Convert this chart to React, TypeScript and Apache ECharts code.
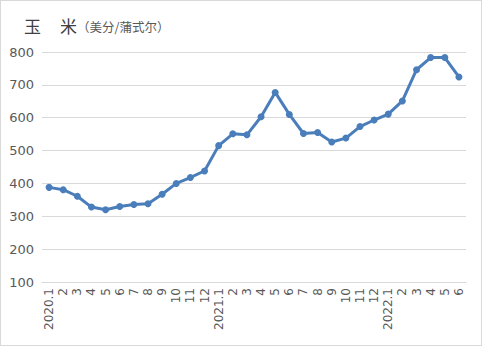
import React, { useEffect, useRef } from "react";
import * as echarts from "echarts";

const categories = [
  "2020.1", "2", "3", "4", "5", "6", "7", "8", "9", "10", "11", "12",
  "2021.1", "2", "3", "4", "5", "6", "7", "8", "9", "10", "11", "12",
  "2022.1", "2", "3", "4", "5", "6",
];
const values = [
  388, 381, 361, 328, 320, 330, 336, 338, 367, 400, 418, 438,
  515, 551, 548, 603, 677, 610, 552, 555, 526, 538, 573, 593,
  611, 651, 746, 783, 783, 724,
];
const titleChar1 = "玉";
const titleChar2 = "米";
const titleUnit = "（美分/蒲式尔）";

export default function App() {
  const ref = useRef<HTMLDivElement>(null);
  useEffect(() => {
    if (!ref.current) return;
    const chart = echarts.init(ref.current, null, { renderer: "svg" });
    chart.setOption({
      animation: false,
      backgroundColor: "#ffffff",
      title: {
        text: `{a|${titleChar1}}{s|}{a|${titleChar2}}{b|${titleUnit}}`,
        left: 18,
        top: 10,
        textStyle: {
          fontWeight: "normal",
          rich: {
            a: { fontSize: 17, color: "#404040", fontFamily: "Noto Sans CJK SC", fontWeight: "normal" },
            s: { width: 19 },
            b: { fontSize: 12.5, color: "#595959", fontFamily: "Noto Sans CJK SC", fontWeight: "normal", padding: [3, 0, 0, 0] },
          },
        },
      },
      grid: { left: 41, right: 15, top: 51, bottom: 63, containLabel: false },
      xAxis: {
        type: "category",
        data: categories,
        boundaryGap: true,
        axisTick: { show: false },
        axisLine: { show: true, lineStyle: { color: "#d9d9d9", width: 1 } },
        axisLabel: {
          interval: 0,
          rotate: 90,
          fontSize: 12,
          color: "#595959",
          fontFamily: "DejaVu Sans",
          margin: 6,
        },
      },
      yAxis: {
        type: "value",
        min: 100,
        max: 800,
        interval: 100,
        axisLine: { show: false },
        axisTick: { show: false },
        splitLine: { lineStyle: { color: "#d9d9d9", width: 1 } },
        axisLabel: { fontSize: 13, color: "#595959", fontFamily: "DejaVu Sans", margin: 8 },
      },
      series: [
        {
          type: "line",
          data: values,
          symbol: "circle",
          symbolSize: 7,
          lineStyle: { color: "#4a7ebb", width: 3 },
          itemStyle: { color: "#4a7ebb" },
        },
      ],
    });
    return () => chart.dispose();
  }, []);
  return (
    <div
      style={{
        position: "fixed",
        left: 0,
        top: 0,
        width: 482,
        height: 346,
        boxSizing: "border-box",
        border: "1px solid #d9d9d9",
        background: "#fff",
      }}
    >
      <div ref={ref} style={{ width: 480, height: 344 }} />
    </div>
  );
}
